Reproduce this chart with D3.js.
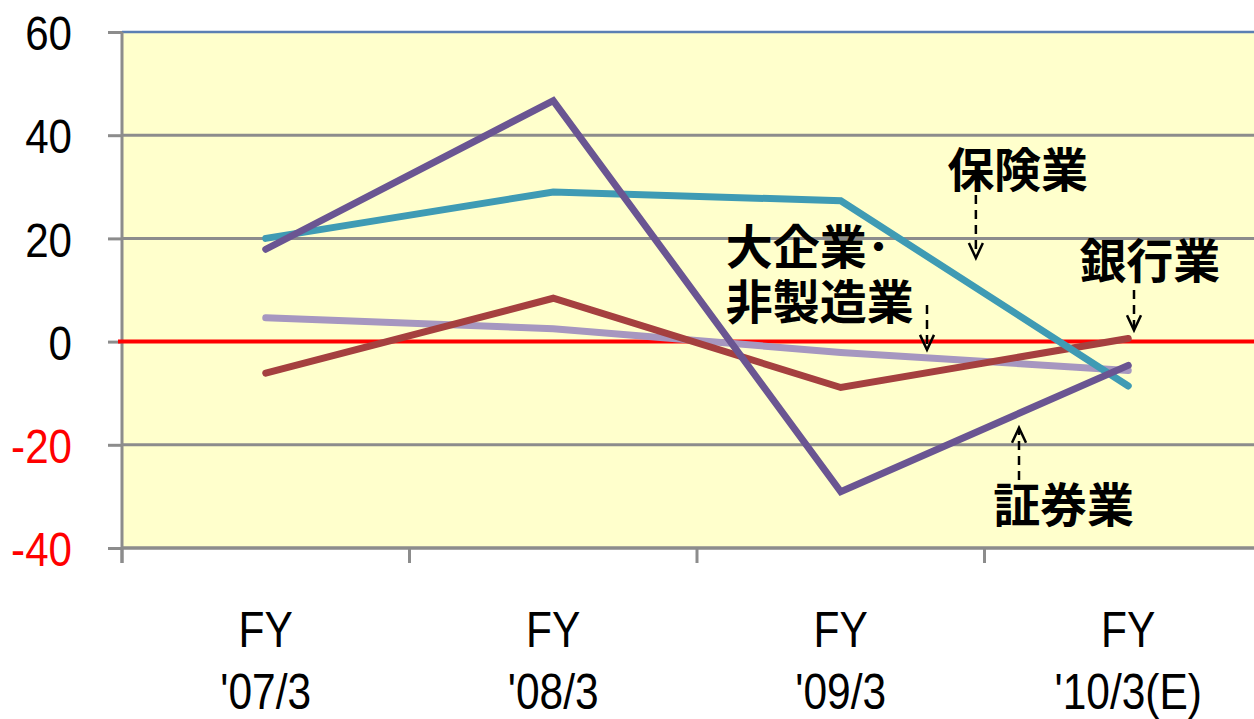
<!DOCTYPE html>
<html lang="ja">
<head>
<meta charset="UTF-8">
<title>Line Chart</title>
<style>
  body{margin:0;background:#fff;}
  .grid line{stroke:#8c8c8c;stroke-width:3;}
  .axis path{display:none;}
  .axis line{stroke:#8c8c8c;stroke-width:3;}
  .axis text{font-family:"Liberation Sans",Arial,sans-serif;font-size:49px;}
  .series{fill:none;stroke-width:7;stroke-linejoin:miter;stroke-linecap:round;}
  .note{font-family:"Noto Sans CJK JP",sans-serif;font-weight:bold;font-size:47px;fill:#000;}
  .arrow{stroke:#000;stroke-width:2.5;fill:none;}
</style>
</head>
<body>
<svg width="1254" height="719"></svg>
<script src="https://cdn.jsdelivr.net/npm/d3@7"></script>
<script>
// categories and tick labels
var categories = ["FY '07/3", "FY '08/3", "FY '09/3", "FY '10/3(E)"];
var catLines = [["FY", "'07/3"], ["FY", "'08/3"], ["FY", "'09/3"], ["FY", "'10/3(E)"]];
var yTicks = [60, 40, 20, 0, -20, -40];

// series values
var securities = [17.9, 46.7, -29.1, -4.6];   // 証券業
var insurance = [20.0, 29.0, 27.3, -8.6];     // 保険業
var banks = [-6.1, 8.4, -8.9, 0.6];           // 銀行業
var largeNonMfg = [4.6, 2.5, -2.1, -5.6];     // 大企業・非製造業

var series = [
  {name: "大企業・非製造業", values: largeNonMfg, color: "#a697c0"},
  {name: "銀行業", values: banks, color: "#a5403f"},
  {name: "保険業", values: insurance, color: "#3f9bb4"},
  {name: "証券業", values: securities, color: "#6a5592"}
];

// annotations (positions in category-index / value units)
var notes = [
  {lines: ["保険業"], x: 2.87, y: [33.3], ax: 2.97, ay0: 28.4, ay1: 16.2},
  {lines: ["大企業･", "非製造業"], x: 2.10, y: [18.4, 7.6], ax: 2.80, ay0: 7.1, ay1: -1.6},
  {lines: ["銀行業"], x: 3.33, y: [15.6], ax: 3.52, ay0: 10.0, ay1: 2.2},
  {lines: ["証券業"], x: 3.03, y: [-31.7], ax: 3.12, ay0: -26.8, ay1: -16.7}
];

var svg = d3.select("svg"),
    pLeft = 122, pRight = 1272, pTop = 32, pBottom = 548;

var x = d3.scaleBand().domain(categories).range([pLeft, pRight]).padding(0);
var xi = d3.scaleLinear().domain([0, categories.length]).range([pLeft, pRight]);
var y = d3.scaleLinear().domain([-40, 60]).range([pBottom, pTop]);

// plot background
svg.append("rect")
  .attr("x", pLeft).attr("y", pTop)
  .attr("width", pRight - pLeft).attr("height", pBottom - pTop)
  .attr("fill", "#ffffcc");

// gridlines
svg.append("g").attr("class", "grid")
  .selectAll("line")
  .data(yTicks.filter(function(d){ return d !== 0 && d !== 60; }))
  .enter().append("line")
  .attr("x1", pLeft).attr("x2", pRight)
  .attr("y1", function(d){ return y(d); })
  .attr("y2", function(d){ return y(d); });

// top border
svg.append("line")
  .attr("x1", pLeft).attr("x2", pRight)
  .attr("y1", y(60)).attr("y2", y(60))
  .attr("stroke", "#5b7fb3").attr("stroke-width", 2.5);

// y axis
var yAxis = svg.append("g")
  .attr("class", "axis y")
  .attr("transform", "translate(" + pLeft + ",0)")
  .call(d3.axisLeft(y).tickValues(yTicks).tickSize(14).tickPadding(0)
    .tickFormat(function(d){ return String(d); }));
yAxis.selectAll("text")
  .attr("x", -50 / 0.86)
  .attr("dy", "0.36em")
  .attr("transform", "scale(0.86,1)")
  .attr("fill", function(d){ return d < 0 ? "#ff0000" : "#000"; });
yAxis.append("line")
  .attr("x1", 0).attr("x2", 0)
  .attr("y1", pTop).attr("y2", pBottom + 15);

// x axis
var xAxis = svg.append("g")
  .attr("class", "axis x")
  .attr("transform", "translate(0," + pBottom + ")");
xAxis.append("line")
  .attr("x1", pLeft).attr("x2", pRight)
  .attr("y1", 0).attr("y2", 0);
xAxis.selectAll(".tk")
  .data(d3.range(categories.length + 1))
  .enter().append("line")
  .attr("class", "tk")
  .attr("x1", function(d){ return xi(d); })
  .attr("x2", function(d){ return xi(d); })
  .attr("y1", 0).attr("y2", 15);
var xl = xAxis.selectAll(".lbl")
  .data(categories)
  .enter().append("g")
  .attr("class", "lbl")
  .attr("transform", function(d){ return "translate(" + (x(d) + x.bandwidth() / 2) + ",0) scale(0.85,1)"; });
xl.selectAll("text")
  .data(function(d, i){ return catLines[i]; })
  .enter().append("text")
  .attr("text-anchor", "middle")
  .style("font-size", "50px")
  .attr("y", function(d, i){ return i === 0 ? 99 : 161; })
  .attr("fill", "#000")
  .text(function(d){ return d; });

// zero line
svg.append("line")
  .attr("x1", pLeft - 4).attr("x2", pRight)
  .attr("y1", y(0)).attr("y2", y(0))
  .attr("stroke", "#ff0000").attr("stroke-width", 4);

// series lines
var line = d3.line()
  .x(function(d, i){ return x(categories[i]) + x.bandwidth() / 2; })
  .y(function(d){ return y(d); });

svg.selectAll(".series")
  .data(series)
  .enter().append("path")
  .attr("class", "series")
  .attr("stroke", function(d){ return d.color; })
  .attr("d", function(d){ return line(d.values); });

// annotations
var ng = svg.selectAll(".notes")
  .data(notes)
  .enter().append("g");
ng.each(function(n){
  var g = d3.select(this);
  n.lines.forEach(function(t, k){
    g.append("text")
      .attr("class", "note")
      .attr("x", xi(n.x))
      .attr("y", y(n.y[k]))
      .attr("dy", "0.36em")
      .text(t);
  });
  var ax = xi(n.ax), y0 = y(n.ay0), y1 = y(n.ay1);
  var dir = y1 > y0 ? 1 : -1;
  g.append("line")
    .attr("class", "arrow")
    .attr("x1", ax).attr("x2", ax)
    .attr("y1", y0).attr("y2", y1 - dir * 2)
    .attr("stroke-dasharray", "9,6");
  g.append("path")
    .attr("class", "arrow")
    .attr("d", "M" + (ax - 7) + "," + (y1 - dir * 15) + "L" + ax + "," + y1 + "L" + (ax + 7) + "," + (y1 - dir * 15));
});
</script>
</body>
</html>
